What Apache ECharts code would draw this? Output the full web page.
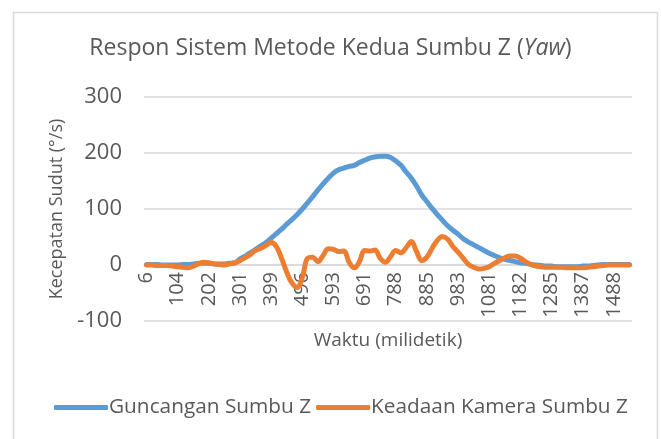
<!DOCTYPE html>
<html>
<head>
<meta charset="utf-8">
<script src="https://cdn.jsdelivr.net/npm/echarts@6/dist/echarts.min.js"></script>
<style>html,body{margin:0;padding:0;background:#fff}#c{width:661px;height:439px}</style>
</head>
<body>
<div id="c"></div>
<script>
var times = [6,22,38,55,71,87,104,120,136,153,169,185,202,218,235,251,268,284,301,317,333,350,366,382,399,415,431,447,464,480,496,512,528,545,561,577,593,609,626,642,658,675,691,707,723,739,756,772,788,804,820,836,853,869,885,901,918,934,950,967,983,999,1016,1032,1048,1065,1081,1098,1115,1131,1148,1165,1182,1199,1216,1233,1250,1268,1285,1302,1319,1336,1353,1370,1387,1404,1421,1437,1454,1471,1488,1505,1522,1539];
var guncangan = [1,1,1,0,0,0,0,1,1,2,3,3,3,2,2,2,3,4,11,16,22,28,34,40,48,56,64,73,81,90,100,111,122,134,145,155,164,170,173,176,178,183,187,191,193,194,194,192,186,178,166,155,141,125,113,101,90,80,70,62,55,47,41,36,31,26,21,17,13,10,8,6,4,3,1,0,-1,-2,-2,-3,-3,-3,-3,-3,-2,-2,-1,0,1,1,1,1,1,1];
var keadaan = [0,0,-1,-1,-1,-2,-3,-4,-5,-2,2,5,4,2,1,0,2,4,8,13,19,26,30,35,40,33,12,-13,-32,-40,-22,12,14,6,17,29,28,24,25,5,-5,6,26,25,27,12,5,15,26,22,31,42,24,8,14,30,44,51,46,33,23,12,1,-4,-7,-6,-3,3,8,13,16,16,12,6,1,-2,-3,-4,-4,-4,-4,-5,-5,-5,-5,-4,-3,-2,-1,0,0,0,0,0];
var yTicks = {min:-100, max:300, interval:100};
var titleText = 'Respon Sistem Metode Kedua Sumbu Z ({i|Yaw})';
var seriesNames = ['Guncangan Sumbu Z','Keadaan Kamera Sumbu Z'];

var font = '"Open Sans", sans-serif';
var txt = '#595959';
var chart = echarts.init(document.getElementById('c'));
chart.setOption({
  animation:false,
  textStyle:{fontFamily:font},
  graphic:[{type:'rect', left:11, top:10, shape:{width:644, height:440}, style:{fill:'none', stroke:'#d9d9d9', lineWidth:1.5}, silent:true}],
  title:{text:titleText, left:'center', top:32, textStyle:{fontFamily:font, fontSize:23, fontWeight:'normal', color:txt, rich:{i:{fontFamily:font, fontSize:23, fontStyle:'italic', color:txt}}}},
  grid:{left:144, right:29, top:97, bottom:118},
  legend:{data:seriesNames, bottom:16, left:49, icon:'roundRect', itemWidth:54, itemHeight:5, itemGap:5,
    textStyle:{fontFamily:font, fontSize:20.8, color:txt, padding:[0,0,0,-4]}},
  xAxis:{type:'category', data:times, boundaryGap:true,
    name:'Waktu (milidetik)', nameLocation:'middle', nameGap:66,
    nameTextStyle:{fontFamily:font, fontSize:19, color:txt},
    offset:-56,
    axisLine:{onZero:false, lineStyle:{color:'#d9d9d9', width:1.5}},
    axisTick:{show:false},
    axisLabel:{interval:5, rotate:90, margin:7, fontFamily:font, fontSize:20, color:txt}},
  yAxis:{type:'value', min:yTicks.min, max:yTicks.max, interval:yTicks.interval,
    name:'Kecepatan Sudut (°/s)', nameLocation:'middle', nameGap:76, nameRotate:90,
    nameTextStyle:{fontFamily:font, fontSize:18, color:txt},
    axisLine:{show:false}, axisTick:{show:false},
    axisLabel:{margin:22, fontFamily:font, fontSize:22, color:txt},
    splitLine:{lineStyle:{color:'#d9d9d9', width:1.5}}},
  series:[
    {name:seriesNames[0], type:'line', data:guncangan, smooth:0.4, showSymbol:false, symbol:'none',
      lineStyle:{color:'#5B9BD5', width:5, cap:'round', join:'round'}, itemStyle:{color:'#5B9BD5'}},
    {name:seriesNames[1], type:'line', data:keadaan, smooth:0.4, showSymbol:false, symbol:'none',
      lineStyle:{color:'#ED7D31', width:5, cap:'round', join:'round'}, itemStyle:{color:'#ED7D31'}}
  ]
});
</script>
</body>
</html>
